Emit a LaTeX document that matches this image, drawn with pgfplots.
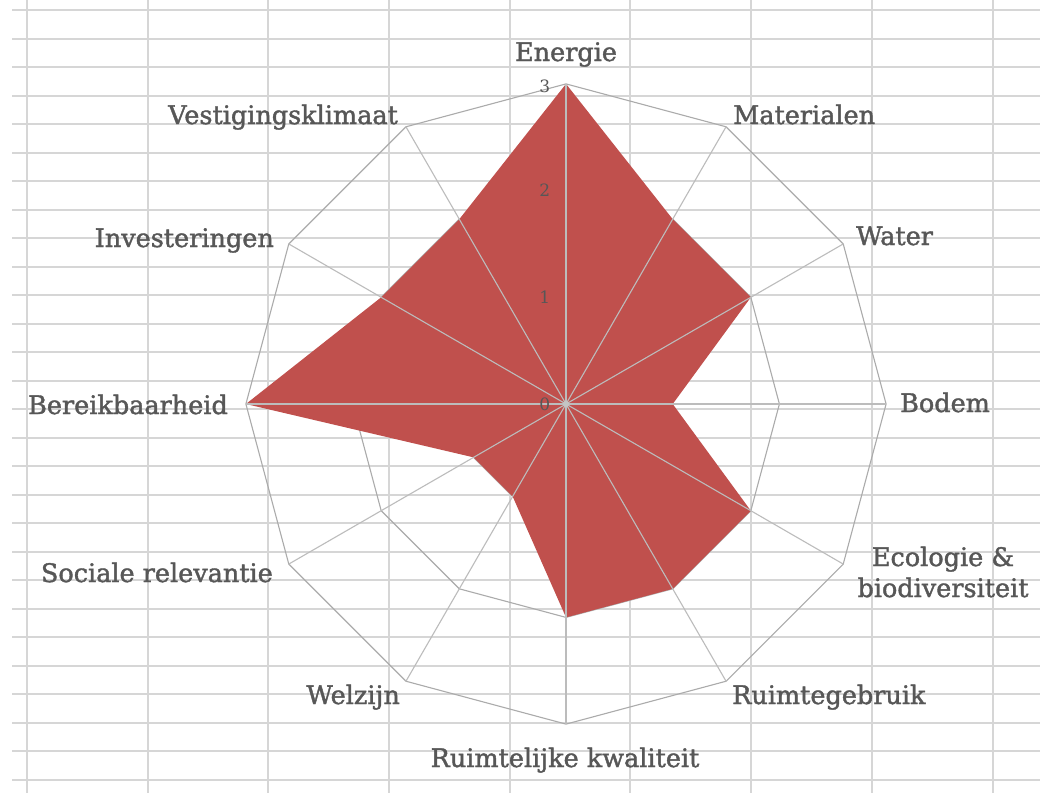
\documentclass[border=0pt]{standalone}
\usepackage{pgfplots}
\usepackage{pgfplotstable}
\pgfplotsset{compat=1.18}
\usepackage{fontspec}
\setmainfont{DejaVu Serif}
\newfontfamily\lblfont{DejaVu Serif}[FakeBold=1.5]
\definecolor{fillred}{HTML}{C0504D}
\definecolor{txt}{HTML}{575757}
\definecolor{ring}{HTML}{ABABAB}
\definecolor{cell}{HTML}{D6D6D6}

\pgfplotstableread{
angle value
90 3
60 2
30 2
0 1
-30 2
-60 2
-90 2
-120 1
-150 1
180 3
150 2
120 2
}\radar

\begin{document}
\begin{tikzpicture}[x=1pt,y=1pt]
\useasboundingbox (0,0) rectangle (1040,-793);
\fill[white] (0,0) rectangle (1040,-793);
\foreach \k in {0,...,27} \draw[cell, line width=1.4pt] (12,{-round(10+28.5*\k)}) -- (1040,{-round(10+28.5*\k)});
\foreach \k in {0,...,8} \draw[cell, line width=1.4pt] ({round(27+120.7*\k)},0) -- ({round(27+120.7*\k)},-793);

\begin{scope}[shift={(566pt,-404pt)}]
\begin{axis}[at={(0pt,0pt)}, anchor=origin, x=106.7pt, y=106.7pt,
  xmin=-3.2, xmax=3.2, ymin=-3.2, ymax=3.2, hide axis, clip=false]
% rings
\addplot[ring, line width=1.1pt, data cs=polar] coordinates {(90,1)(60,1)(30,1)(0,1)(-30,1)(-60,1)(-90,1)(-120,1)(-150,1)(180,1)(150,1)(120,1)(90,1)};
\addplot[ring, line width=1.1pt, data cs=polar] coordinates {(90,2)(60,2)(30,2)(0,2)(-30,2)(-60,2)(-90,2)(-120,2)(-150,2)(180,2)(150,2)(120,2)(90,2)};
\addplot[ring, line width=1.1pt, data cs=polar] coordinates {(90,3)(60,3)(30,3)(0,3)(-30,3)(-60,3)(-90,3)(-120,3)(-150,3)(180,3)(150,3)(120,3)(90,3)};
% series
\addplot[fill=fillred, draw=none, data cs=polar] table[x=angle, y=value] {\radar} -- cycle;
% spokes
\pgfplotsinvokeforeach{0,30,...,330}{
  \addplot[ring!80!white, line width=1.1pt, data cs=polar] coordinates {(#1,0) (#1,3)};
}
\addplot[only marks, mark=*, mark size=3pt, color=ring!70!white] coordinates {(0,0)};
% radial tick labels
\node[txt, font=\fontsize{17}{17}\selectfont] at (axis cs:-0.2,0) {0};
\node[txt, font=\fontsize{17}{17}\selectfont] at (axis cs:-0.2,1) {1};
\node[txt, font=\fontsize{17}{17}\selectfont] at (axis cs:-0.2,2) {2};
\node[txt, font=\fontsize{17}{17}\selectfont] at (axis cs:-0.2,2.98) {3};
\end{axis}
\end{scope}

\begin{scope}[every node/.style={txt, inner sep=0pt, font=\lblfont\fontsize{25.5}{30}\selectfont}]
\node[anchor=base] at (566,-61) {Energie};
\node[anchor=base west] at (733,-124) {Materialen};
\node[anchor=base west] at (856,-245) {Water};
\node[anchor=base west] at (900,-412) {Bodem};
\node[anchor=base] at (943,-566) {Ecologie \&};
\node[anchor=base] at (943,-597) {biodiversiteit};
\node[anchor=base west] at (732,-704) {Ruimtegebruik};
\node[anchor=base] at (565,-767) {Ruimtelijke kwaliteit};
\node[anchor=base east] at (400,-704) {Welzijn};
\node[anchor=base east] at (273,-582) {Sociale relevantie};
\node[anchor=base east] at (228,-414) {Bereikbaarheid};
\node[anchor=base east] at (274,-247) {Investeringen};
\node[anchor=base east] at (398,-124) {Vestigingsklimaat};
\end{scope}
\end{tikzpicture}
\end{document}
